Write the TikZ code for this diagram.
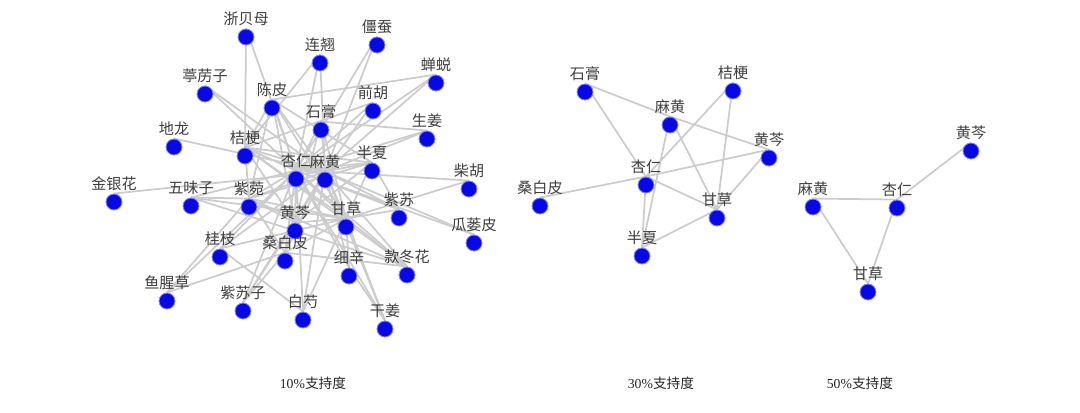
\documentclass[tikz,border=0pt]{standalone}
\usepackage{fontspec}
\setmainfont{Liberation Serif}
\newfontfamily\cjk{Noto Sans CJK SC}
\usepackage{tikz}
\usetikzlibrary{backgrounds}
\definecolor{HerbBlue}{RGB}{8,8,228}
\definecolor{HerbHalo}{RGB}{125,135,238}
\definecolor{HerbEdge}{RGB}{204,204,204}
\definecolor{HerbInk}{RGB}{62,62,62}
\tikzset{
  herbdot/.style={circle, fill=HerbBlue, draw=HerbHalo, line width=0.5pt, minimum size=0.32cm, inner sep=0pt},
  herblabel/.style={font=\cjk\fontsize{8.6}{9}\selectfont, text=HerbInk, inner sep=0.5pt},
  herbedge/.style={draw=HerbEdge, line width=1pt},
  figcaption/.style={font=\fontsize{7.8}{9}\selectfont, text=black!85}
}

\begin{document}
\begin{tikzpicture}[x=0.02cm, y=-0.02cm, label distance=0.8pt]
\useasboundingbox (0,0) rectangle (1080,413);
% 10% support
\node[herbdot, label={[herblabel]above:浙贝母}] (zbm10) at (246,37) {};
\node[herbdot, label={[herblabel]above:僵蚕}] (jc10) at (377,45) {};
\node[herbdot, label={[herblabel]above:连翘}] (lq10) at (320,63) {};
\node[herbdot, label={[herblabel]above:蝉蜕}] (ct10) at (436,83) {};
\node[herbdot, label={[herblabel]above:葶苈子}] (tlz10) at (205,94) {};
\node[herbdot, label={[herblabel]above:陈皮}] (cp10) at (272,108) {};
\node[herbdot, label={[herblabel]above:前胡}] (qh10) at (373,111) {};
\node[herbdot, label={[herblabel]above:石膏}] (sg10) at (321,130) {};
\node[herbdot, label={[herblabel]above:生姜}] (sj10) at (427,139) {};
\node[herbdot, label={[herblabel]above:地龙}] (dl10) at (174,147) {};
\node[herbdot, label={[herblabel]above:桔梗}] (jg10) at (245,156) {};
\node[herbdot, label={[herblabel]above:半夏}] (bx10) at (372,171) {};
\node[herbdot, label={[herblabel]above:杏仁}] (xr10) at (296,179) {};
\node[herbdot, label={[herblabel]above:麻黄}] (mh10) at (325,180) {};
\node[herbdot, label={[herblabel]above:柴胡}] (ch10) at (469,189) {};
\node[herbdot, label={[herblabel]above:金银花}] (jyh10) at (114,202) {};
\node[herbdot, label={[herblabel]above:五味子}] (wwz10) at (191,206) {};
\node[herbdot, label={[herblabel]above:紫菀}] (zw10) at (249,207) {};
\node[herbdot, label={[herblabel]above:紫苏}] (zs10) at (399,218) {};
\node[herbdot, label={[herblabel]above:黄芩}] (hq10) at (295,231) {};
\node[herbdot, label={[herblabel]above:甘草}] (gc10) at (346,227) {};
\node[herbdot, label={[herblabel]above:瓜蒌皮}] (glp10) at (474,243) {};
\node[herbdot, label={[herblabel]above:桂枝}] (gz10) at (220,257) {};
\node[herbdot, label={[herblabel]above:桑白皮}] (sbp10) at (285,261) {};
\node[herbdot, label={[herblabel]above:细辛}] (xx10) at (349,276) {};
\node[herbdot, label={[herblabel]above:款冬花}] (kdh10) at (407,275) {};
\node[herbdot, label={[herblabel]above:鱼腥草}] (yxc10) at (167,301) {};
\node[herbdot, label={[herblabel]above:紫苏子}] (zsz10) at (243,311) {};
\node[herbdot, label={[herblabel]above:白芍}] (bs10) at (303,320) {};
\node[herbdot, label={[herblabel]above:干姜}] (gj10) at (385,329) {};
% 30% support
\node[herbdot, label={[herblabel]above:石膏}] (sg30) at (585,92) {};
\node[herbdot, label={[herblabel]above:桔梗}] (jg30) at (733,91) {};
\node[herbdot, label={[herblabel]above:麻黄}] (mh30) at (670,125) {};
\node[herbdot, label={[herblabel]above:黄芩}] (hq30) at (769,158) {};
\node[herbdot, label={[herblabel]above:杏仁}] (xr30) at (646,185) {};
\node[herbdot, label={[herblabel]above:桑白皮}] (sbp30) at (540,206) {};
\node[herbdot, label={[herblabel]above:甘草}] (gc30) at (717,218) {};
\node[herbdot, label={[herblabel]above:半夏}] (bx30) at (642,256) {};
% 50% support
\node[herbdot, label={[herblabel]above:黄芩}] (hq50) at (971,151) {};
\node[herbdot, label={[herblabel]above:麻黄}] (mh50) at (813,207) {};
\node[herbdot, label={[herblabel]above:杏仁}] (xr50) at (897,208) {};
\node[herbdot, label={[herblabel]above:甘草}] (gc50) at (868,292) {};
\begin{scope}[on background layer]
% hubs of the 10% net
\draw[herbedge] (xr10.north) -- (zbm10.north) (xr10.north) -- (tlz10.north) (xr10.north) -- (jg10.north)
  (xr10.north) -- (cp10.north) (xr10.north) -- (sg10.north) (xr10.north) -- (lq10.north)
  (xr10.north) -- (jc10.north) (xr10.north) -- (qh10.north) (xr10.north) -- (ct10.north)
  (xr10.north) -- (sj10.north) (xr10.north) -- (bx10.north) (xr10.north) -- (mh10.north)
  (xr10.north) -- (wwz10.north) (xr10.north) -- (zw10.north) (xr10.north) -- (hq10.north)
  (xr10.north) -- (gc10.north) (xr10.north) -- (sbp10.north) (xr10.north) -- (gz10.north)
  (xr10.north) -- (zs10.north) (xr10.north) -- (zsz10.north) (xr10.north) -- (bs10.north)
  (xr10.north) -- (xx10.north) (xr10.north) -- (kdh10.north) (xr10.north) -- (gj10.north)
  (xr10.north) -- (glp10.north) (xr10.north) -- (yxc10.north);
\draw[herbedge] (mh10.north) -- (tlz10.north) (mh10.north) -- (dl10.north) (mh10.north) -- (jyh10.north)
  (mh10.north) -- (jg10.north) (mh10.north) -- (cp10.north) (mh10.north) -- (sg10.north)
  (mh10.north) -- (lq10.north) (mh10.north) -- (jc10.north) (mh10.north) -- (qh10.north)
  (mh10.north) -- (ct10.north) (mh10.north) -- (sj10.north) (mh10.north) -- (bx10.north)
  (mh10.north) -- (ch10.north) (mh10.north) -- (zw10.north) (mh10.north) -- (hq10.north)
  (mh10.north) -- (gc10.north) (mh10.north) -- (sbp10.north) (mh10.north) -- (gz10.north)
  (mh10.north) -- (zs10.north) (mh10.north) -- (zsz10.north) (mh10.north) -- (bs10.north)
  (mh10.north) -- (xx10.north) (mh10.north) -- (kdh10.north) (mh10.north) -- (gj10.north)
  (mh10.north) -- (glp10.north);
\draw[herbedge] (gc10.north) -- (jg10.north) (gc10.north) -- (cp10.north) (gc10.north) -- (sg10.north)
  (gc10.north) -- (bx10.north) (gc10.north) -- (wwz10.north) (gc10.north) -- (zw10.north)
  (gc10.north) -- (hq10.north) (gc10.north) -- (sbp10.north) (gc10.north) -- (zs10.north)
  (gc10.north) -- (xx10.north) (gc10.north) -- (gj10.north) (gc10.north) -- (ch10.north)
  (gc10.north) -- (bs10.north) (gc10.north) -- (kdh10.north) (gc10.north) -- (gz10.north);
\draw[herbedge] (hq10.north) -- (jg10.north) (hq10.north) -- (sbp10.north) (hq10.north) -- (zw10.north)
  (hq10.north) -- (bx10.north) (hq10.north) -- (zsz10.north) (hq10.north) -- (sg10.north)
  (hq10.north) -- (cp10.north);
\draw[herbedge] (jg10.north) -- (zbm10.north) (jg10.north) -- (cp10.north) (jg10.north) -- (zw10.north)
  (jg10.north) -- (bx10.north) (jg10.north) -- (lq10.north) (jg10.north) -- (qh10.north)
  (jg10.north) -- (kdh10.north);
\draw[herbedge] (zw10.north) -- (kdh10.north) (zw10.north) -- (sbp10.north) (zw10.north) -- (cp10.north)
  (zw10.north) -- (bx10.north) (zw10.north) -- (yxc10.north) (zw10.north) -- (wwz10.north);
\draw[herbedge] (cp10.north) -- (bx10.north) (cp10.north) -- (ct10.north) (sbp10.north) -- (kdh10.north)
  (xx10.north) -- (gj10.north) (yxc10.north) -- (sbp10.north) (gz10.north) -- (bs10.north)
  (sg10.north) -- (sj10.north) (zs10.north) -- (bx10.north) (zsz10.north) -- (sbp10.north)
  (wwz10.north) -- (kdh10.north);
% 30% and 50% nets
\draw[herbedge] (sg30.north) -- (mh30.north) (sg30.north) -- (xr30.north) (mh30.north) -- (hq30.north)
  (mh30.north) -- (gc30.north) (mh30.north) -- (bx30.north) (jg30.north) -- (xr30.north)
  (jg30.north) -- (gc30.north) (xr30.north) -- (hq30.north) (xr30.north) -- (gc30.north)
  (xr30.north) -- (sbp30.north) (xr30.north) -- (bx30.north) (gc30.north) -- (bx30.north)
  (hq30.north) -- (gc30.north);
\draw[herbedge] (mh50.north) -- (xr50.north) (xr50.north) -- (hq50.north) (mh50.north) -- (gc50.north)
  (xr50.north) -- (gc50.north);
\end{scope}
\node[figcaption] (cap10) at (313,383) {10\%{\cjk 支持度}};
\node[figcaption] (cap30) at (661,383) {30\%{\cjk 支持度}};
\node[figcaption] (cap50) at (860,383) {50\%{\cjk 支持度}};
\end{tikzpicture}
\end{document}
